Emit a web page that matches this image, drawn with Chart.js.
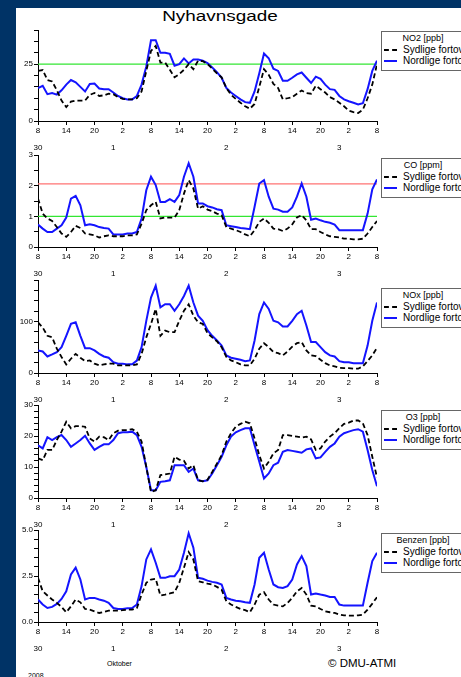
<!DOCTYPE html>
<html>
<head>
<meta charset="utf-8">
<script src="https://cdn.jsdelivr.net/npm/chart.js@4.4.1/dist/chart.umd.min.js"></script>
<style>
  body { margin: 0; width: 461px; height: 677px; overflow: hidden; background: #003366; font-family: "Liberation Sans", Arial, sans-serif; }
  #sheet { position: absolute; left: 16px; top: 8px; width: 445px; height: 669px; background: #fff; overflow: hidden; }
  .plot { position: absolute; left: 0; width: 445px; height: 140px; }
  #title { position: absolute; left: 146px; top: 0px; width: 116px; text-align: center; font-size: 14px; line-height: 16px; transform: scaleX(1.35); }
  .leg { position: absolute; left: 365px; width: 90px; height: 37px; border: 1px solid #666; background: #fff; font-size: 10px; line-height: 11px; white-space: nowrap; padding-top: 1px; }
  .leg .lt { width: 82px; text-align: center; font-family: "Liberation Sans Narrow", "Liberation Sans", Arial, sans-serif; font-size: 9px; }
  .leg .lr { position: relative; padding-left: 21px; }
  .leg .sw { position: absolute; left: 2px; top: 5px; width: 13px; height: 0; }
  .note { position: absolute; white-space: nowrap; }
  .narrow { font-family: "Liberation Sans Narrow", "Liberation Sans", Arial, sans-serif; }
</style>
</head>
<body>
<div id="sheet">
  <div id="title">Nyhavnsgade</div>
  <div class="note narrow" style="left:91px; top:652px; font-size:7px;">Oktober</div>
  <div class="note" style="left:312px; top:649px; font-size:11.5px;">© DMU-ATMI</div>
  <div class="note narrow" style="left:12px; top:664px; font-size:7px;">2008</div>
</div>
<script>
// timer fra 30. sep kl. 8 og 72 timer frem
const hours = [0, 1, 2, 3, 4, 5, 6, 7, 8, 9, 10, 11, 12, 13, 14, 15, 16, 17, 18, 19, 20, 21, 22, 23,
  24, 25, 26, 27, 28, 29, 30, 31, 32, 33, 34, 35, 36, 37, 38, 39, 40, 41, 42, 43, 44, 45, 46, 47,
  48, 49, 50, 51, 52, 53, 54, 55, 56, 57, 58, 59, 60, 61, 62, 63, 64, 65, 66, 67, 68, 69, 70, 71, 72];
const startHour = 8;
const dayTickValues = [0, 16, 40, 64];
const dayTickLabels = ['30', '1', '2', '3'];
const seriesNames = ['Sydlige fortov', 'Nordlige fortov'];

// NO2 [ppb]
const no2Syd = [22, 22.4, 18, 17.4, 13.5, 9, 6.1, 8.5, 9, 9, 9, 11.5, 12.3, 11, 11.3, 12, 11.8, 10.5, 9.7, 9.5, 9.5, 10, 13, 22,
  30.8, 33, 25.7, 25.7, 22.5, 19.2, 20.6, 22.5, 25, 22.8, 26.5, 26.3, 25, 23, 21, 19.2, 14.5, 11.5, 9.7, 8, 6.5, 5.4, 7.5, 15,
  22.8, 20.3, 16.3, 14.5, 9.5, 10, 10.5, 12, 13.4, 12.3, 12, 15.5, 14, 12.5, 10.5, 9.5, 8, 6.5, 4.6, 3.9, 3.5, 5, 10, 16, 25];
const no2Nord = [14.5, 15.5, 11.8, 12.3, 11.6, 13.5, 16, 18, 17, 15, 13, 16.3, 16.5, 14.3, 14, 14, 12.5, 11, 10, 9.5, 9.5, 11, 16, 24,
  35.5, 35.5, 30, 30, 29.5, 24.3, 25, 27.5, 25.3, 27, 27, 26.5, 25.5, 23.5, 21.5, 19, 14.5, 12.5, 11, 9.5, 8.3, 8, 13, 21,
  29.7, 27.6, 23, 22, 17.7, 17.7, 19, 20.5, 21.3, 19, 16.7, 19.5, 18.5, 16, 14, 13.7, 11, 9.5, 8.7, 8, 7.3, 7.8, 14, 22, 26.5];
const no2Limits = [25];

// CO [ppm]
const coSyd = [1.58, 1.09, 0.93, 0.85, 0.65, 0.44, 0.33, 0.49, 0.69, 0.62, 0.44, 0.41, 0.38, 0.31, 0.35, 0.38, 0.35, 0.35, 0.35, 0.38, 0.38, 0.41, 0.76, 1.2,
  1.36, 1.47, 0.93, 0.96, 0.96, 0.96, 1.2, 1.74, 2.18, 1.91, 1.25, 1.33, 1.22, 1.17, 1.09, 1.04, 0.65, 0.6, 0.55, 0.49, 0.41, 0.35, 0.55, 0.82,
  0.93, 0.79, 0.6, 0.58, 0.52, 0.6, 0.74, 0.96, 1.04, 0.87, 0.58, 0.58, 0.49, 0.41, 0.35, 0.33, 0.31, 0.27, 0.27, 0.25, 0.25, 0.27, 0.44, 0.65, 0.85];
const coNord = [0.73, 0.6, 0.49, 0.49, 0.6, 0.71, 0.96, 1.58, 1.67, 1.36, 0.71, 0.74, 0.71, 0.65, 0.62, 0.6, 0.41, 0.41, 0.41, 0.44, 0.44, 0.49, 0.93, 1.85,
  2.29, 2.02, 1.47, 1.47, 1.56, 1.47, 1.69, 2.29, 2.73, 2.29, 1.42, 1.42, 1.33, 1.29, 1.23, 1.2, 0.71, 0.68, 0.65, 0.62, 0.6, 0.58, 1.31, 2.07,
  2.18, 1.64, 1.25, 1.22, 1.15, 1.15, 1.29, 1.64, 2.07, 1.64, 0.89, 0.93, 0.87, 0.82, 0.79, 0.73, 0.55, 0.55, 0.55, 0.55, 0.55, 0.55, 1.09, 1.88, 2.2];
const coLimits = [2.06, 1];

// NOx [ppb]
const noxSyd = [98, 88, 72, 69, 47, 31, 16.7, 27.6, 37, 29.5, 23, 24.4, 18, 14.7, 16.7, 18, 18, 14.7, 14.7, 14.7, 14.7, 16.7, 37, 69,
  95, 124, 72, 82, 79, 79, 101, 120.5, 133, 111, 98, 95, 77, 69, 61.5, 50, 31, 24.4, 21, 16.7, 14.7, 14.7, 27.6, 47,
  57.7, 50, 40.4, 38.5, 34, 41.7, 51, 57.7, 60, 43.6, 34, 32.7, 25.6, 19, 14.7, 12.8, 10, 9.6, 9.6, 8.3, 8.3, 12.8, 23, 34, 48.7];
const noxNord = [43.6, 41.7, 32, 36, 40.4, 50, 72, 95, 98, 72, 48, 48, 43.6, 37, 32, 29.5, 21, 18, 18, 16.7, 16.7, 24, 50, 101,
  146, 169, 127, 133, 133, 120.5, 133, 149, 169, 136.5, 111, 101, 83, 72, 63, 53, 34, 29.5, 27.6, 25.6, 23, 24.4, 63, 114,
  136.5, 124, 101, 98, 90, 90, 101, 114, 120.5, 92, 60, 60, 50, 40.4, 34, 32, 23, 21, 21, 19, 19, 19, 53, 101, 136.5];

// O3 [ppb]
const o3Syd = [12.8, 12.2, 15.5, 15.5, 18.7, 21.4, 24.6, 22.5, 23.2, 23.2, 23, 19.2, 18.2, 19.8, 19.6, 18.7, 20.9, 21.7, 21.9, 21.9, 22.2, 21.4, 18.2, 10,
  1.9, 2.5, 7.4, 7.6, 7.9, 13.3, 12.4, 12, 9.5, 10.6, 5.7, 5.4, 5.9, 8.4, 11.1, 13.8, 18.2, 20.9, 23, 23.9, 24.6, 24.1, 19.2, 13.8,
  9.5, 11.7, 14.4, 15.5, 20.3, 20.3, 20, 19.8, 19.5, 19.8, 18.9, 15.5, 16, 18.2, 19.8, 20.9, 22.5, 23.9, 24.3, 25, 25, 24.1, 20.3, 13.3, 6.6];
const o3Nord = [17, 16, 19.6, 18.7, 19.6, 20.3, 18.7, 16.5, 17.6, 18.7, 20.1, 17.6, 15.5, 16.5, 17.3, 17.3, 18.7, 20.9, 21.2, 21.2, 21.4, 20.3, 16.5, 10,
  2.5, 2.5, 5.2, 5.4, 5.7, 10.6, 10.6, 10.6, 8.4, 9.5, 5.7, 5.4, 5.7, 7.9, 10.6, 13.3, 17, 19.8, 21.2, 21.9, 22.5, 22.5, 17, 11.7,
  6.3, 7.9, 10.6, 11.4, 14.9, 15.5, 15.2, 14.9, 14.6, 15.7, 16, 12.8, 13.1, 14.9, 16.5, 17.6, 19.8, 20.9, 21.4, 21.9, 22.2, 21.4, 15.5, 9, 3.8];

// Benzen [ppb]
const benzenSyd = [2.4, 1.67, 1.44, 1.22, 1.04, 0.82, 0.53, 0.85, 1.22, 1.07, 0.71, 0.67, 0.58, 0.49, 0.55, 0.62, 0.62, 0.62, 0.64, 0.67, 0.67, 0.76, 1.49, 2.13,
  2.31, 2.35, 1.44, 1.49, 1.55, 1.62, 2.13, 2.95, 3.8, 3.4, 2.22, 2.16, 2.09, 2.04, 1.91, 1.76, 1.13, 0.95, 0.82, 0.71, 0.64, 0.53, 0.95, 1.49,
  1.62, 1.22, 0.95, 0.89, 0.85, 1.04, 1.31, 1.67, 1.85, 1.49, 0.89, 0.85, 0.71, 0.58, 0.53, 0.49, 0.4, 0.36, 0.35, 0.35, 0.36, 0.4, 0.67, 1.0, 1.35];
const benzenNord = [1.22, 0.95, 0.76, 0.82, 0.98, 1.25, 1.67, 2.58, 2.95, 2.31, 1.22, 1.31, 1.31, 1.22, 1.16, 1.04, 0.76, 0.71, 0.71, 0.75, 0.76, 0.95, 1.95, 3.4,
  3.95, 3.22, 2.4, 2.4, 2.49, 2.49, 2.85, 3.76, 4.82, 4.04, 2.4, 2.35, 2.25, 2.18, 2.13, 2.04, 1.31, 1.22, 1.16, 1.13, 1.07, 1.04, 2.04, 3.49,
  3.76, 2.85, 2.04, 1.89, 1.85, 1.95, 2.31, 3.13, 3.58, 3.04, 1.49, 1.55, 1.49, 1.44, 1.36, 1.36, 0.95, 0.89, 0.89, 0.89, 0.89, 0.89, 2.13, 3.31, 3.76];

Chart.defaults.font.family = "'Liberation Sans Narrow', 'Liberation Sans', Arial, sans-serif";
Chart.defaults.font.size = 8;
Chart.defaults.color = '#000';

const panels = [
  { title: 'NO2 [ppb]', syd: no2Syd, nord: no2Nord, limits: no2Limits, limitColors: ['#33e633'],
    max: 40, step: 5, labels: [0, 25], digits: 0, top: 14, plotH: 91, legTop: 23 },
  { title: 'CO [ppm]', syd: coSyd, nord: coNord, limits: coLimits, limitColors: ['#ff7373', '#33e633'],
    max: 3, step: 0.5, labels: [0, 1, 2, 3], digits: 0, top: 139, plotH: 92, legTop: 150 },
  { title: 'NOx [ppb]', syd: noxSyd, nord: noxNord, limits: [], limitColors: [],
    max: 180, step: 20, labels: [0, 100], digits: 0, top: 264, plotH: 93, legTop: 280 },
  { title: 'O3 [ppb]', syd: o3Syd, nord: o3Nord, limits: [], limitColors: [],
    max: 30, step: 2, labels: [0, 10, 20, 30], digits: 0, top: 389, plotH: 93, legTop: 402 },
  { title: 'Benzen [ppb]', syd: benzenSyd, nord: benzenNord, limits: [], limitColors: [],
    max: 5, step: 0.5, labels: [0, 2.5, 5], digits: 1, top: 514, plotH: 92, legTop: 525 }
];

const sheet = document.getElementById('sheet');

panels.forEach((p, i) => {
  const canvas = document.createElement('canvas');
  canvas.className = 'plot';
  canvas.style.top = p.top + 'px';
  canvas.width = 445;
  canvas.height = 140;
  sheet.appendChild(canvas);

  const datasets = [
    { label: seriesNames[0], data: p.syd, borderColor: '#000', borderWidth: 1.8, borderDash: [5, 3] },
    { label: seriesNames[1], data: p.nord, borderColor: '#1414ff', borderWidth: 2 }
  ];
  p.limits.forEach((v, k) => {
    datasets.push({ label: 'grænse', data: [{ x: 0, y: v }, { x: 72, y: v }], borderColor: p.limitColors[k], borderWidth: 1.2 });
  });

  new Chart(canvas, {
    type: 'line',
    data: { labels: hours, datasets: datasets },
    options: {
      responsive: false,
      animation: false,
      events: [],
      layout: { padding: { top: 8, left: 0, right: 84, bottom: 96 - p.plotH } },
      elements: { point: { radius: 0 }, line: { tension: 0 } },
      plugins: { legend: { display: false }, tooltip: { enabled: false } },
      scales: {
        x: {
          type: 'linear', min: 0, max: 72,
          grid: { drawOnChartArea: false, tickLength: 4, color: '#000' },
          border: { color: '#000' },
          ticks: { stepSize: 6, autoSkip: false, maxRotation: 0, padding: 1,
                   callback: v => (v + startHour) % 24 },
          afterFit: s => { s.height = 14; }
        },
        xDay: {
          type: 'linear', position: 'bottom', min: 0, max: 72,
          grid: { display: false, drawTicks: false },
          border: { display: false },
          afterBuildTicks: s => { s.ticks = dayTickValues.map(v => ({ value: v })); },
          ticks: { autoSkip: false, maxRotation: 0, padding: 8,
                   callback: v => dayTickLabels[dayTickValues.indexOf(v)] },
          afterFit: s => { s.height = 22; }
        },
        y: {
          min: 0, max: p.max,
          grid: { drawOnChartArea: false, tickLength: 4, color: '#000' },
          border: { color: '#000' },
          ticks: { stepSize: p.step, autoSkip: false, padding: 1,
                   callback: v => p.labels.some(l => Math.abs(l - v) < 1e-6) ? v.toFixed(p.digits) : '' },
          afterFit: s => { s.width = 22; }
        }
      }
    }
  });

  const leg = document.createElement('div');
  leg.className = 'leg';
  leg.style.top = p.legTop + 'px';
  leg.innerHTML = '<div class="lt">' + p.title + '</div>' +
    '<div class="lr"><span class="sw" style="border-top:2px dashed #000"></span>' + seriesNames[0] + '</div>' +
    '<div class="lr"><span class="sw" style="border-top:2px solid #1414ff"></span>' + seriesNames[1] + '</div>';
  sheet.appendChild(leg);
});
</script>
</body>
</html>
